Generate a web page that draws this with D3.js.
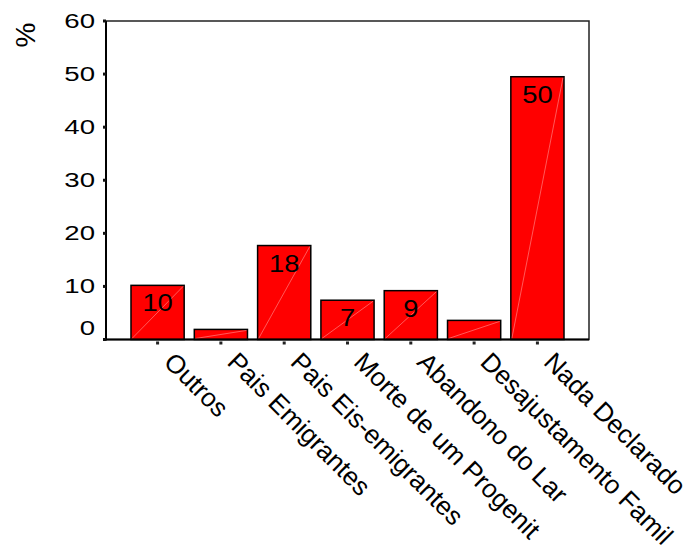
<!DOCTYPE html>
<html>
<head>
<meta charset="utf-8">
<script src="https://cdn.jsdelivr.net/npm/d3@7/dist/d3.min.js"></script>
<style>
  html, body { margin: 0; padding: 0; background: #fff; }
  svg { display: block; font-family: Arial, "Liberation Sans", sans-serif; }
</style>
</head>
<body>
<svg id="chart" width="691" height="552"></svg>
<script>
// ---- data ----
const categories = ["Outros", "Pais Emigrantes", "Pais Eis-emigrantes", "Morte de um Progenit",
                    "Abandono do Lar", "Desajustamento Famil", "Nada Declarado"];
const values = [10.2, 1.9, 17.7, 7.4, 9.2, 3.6, 49.5];
const barLabels = ["10", "", "18", "7", "9", "", "50"];
const yTicks = [0, 10, 20, 30, 40, 50, 60];
const yTitle = "%";

// ---- layout ----
const svg = d3.select("#chart");
const frame = { left: 106, right: 589, top: 21, bottom: 339.5 };

const x = d3.scaleBand().domain(categories).range([112, 583]).paddingInner(0.16).paddingOuter(0.3);
const y = d3.scaleLinear().domain([0, 60]).range([frame.bottom, frame.top]);

// frame (top/right)
svg.append("rect")
  .attr("x", frame.left).attr("y", frame.top)
  .attr("width", frame.right - frame.left).attr("height", frame.bottom - frame.top)
  .attr("fill", "none").attr("stroke", "#222").attr("stroke-width", 1.5);

// bars
const bars = svg.append("g");
categories.forEach((c, i) => {
  const bx = x(c), bw = x.bandwidth(), by = y(values[i]), bh = y(0) - y(values[i]);
  bars.append("rect")
    .attr("x", bx).attr("y", by).attr("width", bw).attr("height", bh)
    .attr("fill", "#ff0000").attr("stroke", "#000").attr("stroke-width", 1.5);
  bars.append("line")
    .attr("x1", bx + 1).attr("y1", y(0) - 1).attr("x2", bx + bw - 1).attr("y2", by + 1)
    .attr("stroke", "rgba(255,255,255,0.35)").attr("stroke-width", 1);
  if (barLabels[i]) {
    bars.append("text")
      .attr("transform", `translate(${bx + bw / 2},${by + 26}) scale(1.14,1)`)
      .attr("text-anchor", "middle")
      .attr("font-size", 24)
      .attr("fill", "#000")
      .text(barLabels[i]);
  }
});

// axes lines
svg.append("line").attr("x1", frame.left).attr("x2", frame.left)
  .attr("y1", frame.top).attr("y2", frame.bottom + 1)
  .attr("stroke", "#000").attr("stroke-width", 2);
svg.append("line").attr("x1", frame.left).attr("x2", frame.right)
  .attr("y1", frame.bottom).attr("y2", frame.bottom)
  .attr("stroke", "#000").attr("stroke-width", 2);

// y ticks and labels
const yg = svg.append("g");
yTicks.forEach(t => {
  yg.append("rect").attr("x", frame.left - 3).attr("y", y(t) - 1.5)
    .attr("width", 3).attr("height", 3).attr("fill", "#111");
  const ly = t === 0 ? y(t) - 12 : y(t);
  yg.append("text")
    .attr("transform", `translate(${frame.left - 11},${ly + 7}) scale(1.38,1)`)
    .attr("text-anchor", "end")
    .attr("font-size", 20)
    .attr("fill", "#000")
    .text(t);
});

// x ticks and rotated labels
const xg = svg.append("g");
categories.forEach(c => {
  const cx = x(c) + x.bandwidth() / 2;
  xg.append("rect").attr("x", cx - 1.5).attr("y", frame.bottom + 2)
    .attr("width", 3).attr("height", 3).attr("fill", "#222");
  xg.append("text")
    .attr("transform", `translate(${cx + 5},${frame.bottom + 24}) rotate(45)`)
    .attr("text-anchor", "start")
    .attr("font-size", 26)
    .attr("fill", "#000")
    .text(c);
});

// y title
svg.append("text")
  .attr("transform", "translate(35,35) rotate(-90)")
  .attr("text-anchor", "middle")
  .attr("font-size", 28)
  .attr("fill", "#000")
  .text(yTitle);
</script>
</body>
</html>
